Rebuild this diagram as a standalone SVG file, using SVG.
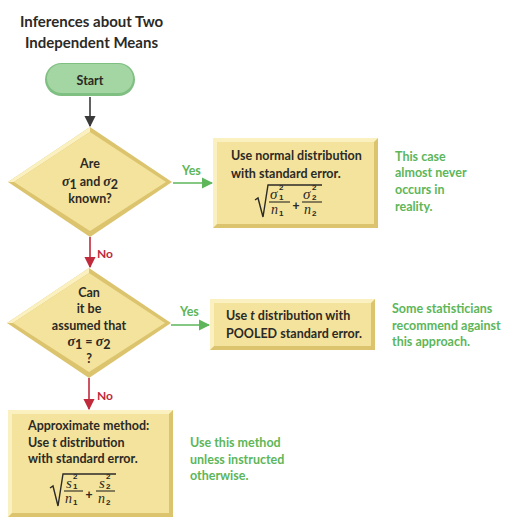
<svg xmlns="http://www.w3.org/2000/svg" width="527" height="526" viewBox="0 0 527 526">
<defs>
<style>
.t{font-family:Lato,"Open Sans","Liberation Sans",sans-serif;font-weight:bold;fill:#2b2a26;font-size:12.5px}
.ti{font-family:Lato,"Open Sans","Liberation Sans",sans-serif;font-weight:bold;fill:#2b2a26;font-size:15px}
.g{font-family:Lato,"Open Sans","Liberation Sans",sans-serif;font-weight:bold;fill:#5db65a;font-size:12.5px}
.r{font-family:Lato,"Open Sans","Liberation Sans",sans-serif;font-weight:bold;fill:#c02a3c;font-size:12px}
.m{font-family:"Liberation Serif","DejaVu Serif",serif;font-style:italic;fill:#2b2a26}
.ms{font-family:"Liberation Sans",sans-serif;font-weight:bold;fill:#2b2a26;font-size:8px}
.pl{font-family:"Liberation Sans",sans-serif;font-weight:bold;fill:#2b2a26;font-size:12px}
.dark{fill:#dcc46e}
.light{fill:#fbf1c0}
.main{fill:#f4e39c}
.rad{fill:none;stroke:#2b2a26;stroke-width:1.4}
.fb{stroke:#2b2a26;stroke-width:1.1}
</style>
<marker id="ak" viewBox="0 0 10 10" refX="9" refY="5" markerWidth="7" markerHeight="7" orient="auto"><path d="M0,0 L10,5 L0,10 z" fill="#3a3a3a"/></marker>
<marker id="ag" viewBox="0 0 10 10" refX="9" refY="5" markerWidth="7" markerHeight="7" orient="auto"><path d="M0,0 L10,5 L0,10 z" fill="#5db65a"/></marker>
<marker id="ar" viewBox="0 0 10 10" refX="9" refY="5" markerWidth="7" markerHeight="7" orient="auto"><path d="M0,0 L10,5 L0,10 z" fill="#c02a3c"/></marker>
</defs>
<rect width="527" height="526" fill="#ffffff"/>

<g id="title">
<text class="ti" x="20" y="27">Inferences about Two</text>
<text class="ti" x="25" y="48">Independent Means</text>
</g>

<g id="start">
<rect x="45" y="63" width="90" height="33" rx="16.5" fill="#7fbf82"/>
<rect x="47" y="64" width="86" height="29" rx="14.5" fill="#a3d6a2"/>
<text class="t" x="90" y="85" text-anchor="middle" font-size="14">Start</text>
</g>

<g id="q1">
<polygon class="dark" points="90,127 172,182 90,237 8,182"/>
<polygon class="light" points="90,127 8,182 14,182 90,132"/>
<polygon class="main" points="90,132 166,182 90,231 14,182"/>
<text class="t" x="90" y="168" text-anchor="middle">Are</text>
<text class="t" x="90" y="186" text-anchor="middle"><tspan class="m" font-size="14">σ</tspan><tspan dy="3">1</tspan><tspan dy="-3"> and </tspan><tspan class="m" font-size="14">σ</tspan><tspan dy="3">2</tspan></text>
<text class="t" x="90" y="203" text-anchor="middle">known?</text>
</g>

<g id="box1">
<rect class="dark" x="213" y="138" width="165" height="90"/>
<polygon class="light" points="213,138 378,138 374,142 217,142 217,224 213,228"/>
<rect class="main" x="217" y="142" width="157" height="82"/>
<text class="t" x="231" y="160">Use normal distribution</text>
<text class="t" x="231" y="178">with standard error.</text>
<polyline class="rad" points="255,200 258,198 263,217 268,185 322,185"/>
<text class="m" x="270" y="199" font-size="15">σ</text>
<text class="ms" x="279" y="190">2</text>
<text class="ms" x="279" y="199.5">1</text>
<line class="fb" x1="269" y1="202" x2="290" y2="202"/>
<text class="m" x="271" y="214" font-size="14">n</text>
<text class="ms" x="279" y="216">1</text>
<text class="pl" x="296" y="210" text-anchor="middle">+</text>
<text class="m" x="303" y="199" font-size="15">σ</text>
<text class="ms" x="312" y="190">2</text>
<text class="ms" x="312" y="199.5">2</text>
<line class="fb" x1="302" y1="202" x2="322" y2="202"/>
<text class="m" x="304" y="214" font-size="14">n</text>
<text class="ms" x="312" y="216">2</text>
</g>

<g id="note1">
<text class="g" x="395" y="161">This case</text>
<text class="g" x="395" y="177">almost never</text>
<text class="g" x="395" y="194">occurs in</text>
<text class="g" x="395" y="211">reality.</text>
</g>

<g id="q2">
<polygon class="dark" points="89,268 171,323 89,378 7,323"/>
<polygon class="light" points="89,268 7,323 13,323 89,273"/>
<polygon class="main" points="89,273 165,323 89,372 13,323"/>
<text class="t" x="89" y="297" text-anchor="middle">Can</text>
<text class="t" x="89" y="313" text-anchor="middle">it be</text>
<text class="t" x="89" y="330" text-anchor="middle">assumed that</text>
<text class="t" x="89" y="346" text-anchor="middle"><tspan class="m" font-size="14">σ</tspan><tspan dy="3">1</tspan><tspan dy="-3"> = </tspan><tspan class="m" font-size="14">σ</tspan><tspan dy="3">2</tspan></text>
<text class="t" x="89" y="363" text-anchor="middle">?</text>
</g>

<g id="box2">
<rect class="dark" x="210" y="299" width="165" height="51"/>
<polygon class="light" points="210,299 375,299 371,303 214,303 214,346 210,350"/>
<rect class="main" x="214" y="303" width="157" height="43"/>
<text class="t" x="226" y="320">Use <tspan font-style="italic">t</tspan> distribution with</text>
<text class="t" x="226" y="338">POOLED standard error.</text>
</g>

<g id="note2">
<text class="g" x="392" y="313">Some statisticians</text>
<text class="g" x="392" y="330">recommend against</text>
<text class="g" x="392" y="346">this approach.</text>
</g>

<g id="box3">
<rect class="dark" x="8" y="410" width="165" height="107"/>
<polygon class="light" points="8,410 173,410 169,414 12,414 12,513 8,517"/>
<rect class="main" x="12" y="414" width="157" height="99"/>
<text class="t" x="28" y="430">Approximate method:</text>
<text class="t" x="28" y="447">Use <tspan font-style="italic">t</tspan> distribution</text>
<text class="t" x="28" y="463">with standard error.</text>
<polyline class="rad" points="50,488 53,486 58,506 63,474 116,474"/>
<text class="m" x="66" y="488" font-size="15">s</text>
<text class="ms" x="73" y="479">2</text>
<text class="ms" x="73" y="488.5">1</text>
<line class="fb" x1="64" y1="491" x2="83" y2="491"/>
<text class="m" x="65" y="503" font-size="14">n</text>
<text class="ms" x="73" y="505">1</text>
<text class="pl" x="89" y="499" text-anchor="middle">+</text>
<text class="m" x="99" y="488" font-size="15">s</text>
<text class="ms" x="106" y="479">2</text>
<text class="ms" x="106" y="488.5">2</text>
<line class="fb" x1="96" y1="491" x2="115" y2="491"/>
<text class="m" x="98" y="503" font-size="14">n</text>
<text class="ms" x="106" y="505">2</text>
</g>

<g id="note3">
<text class="g" x="190" y="447">Use this method</text>
<text class="g" x="190" y="464">unless instructed</text>
<text class="g" x="190" y="480">otherwise.</text>
</g>

<g id="connectors">
<line x1="90" y1="97" x2="90" y2="126" stroke="#3a3a3a" stroke-width="1.6" marker-end="url(#ak)"/>
<line x1="173" y1="183" x2="212" y2="183" stroke="#5db65a" stroke-width="1.6" marker-end="url(#ag)"/>
<text class="g" x="182" y="175" font-size="11.5">Yes</text>
<line x1="90" y1="237" x2="90" y2="267" stroke="#c02a3c" stroke-width="1.6" marker-end="url(#ar)"/>
<text class="r" x="97" y="258">No</text>
<line x1="171" y1="325" x2="209" y2="325" stroke="#5db65a" stroke-width="1.6" marker-end="url(#ag)"/>
<text class="g" x="180" y="316" font-size="11.5">Yes</text>
<line x1="89" y1="378" x2="89" y2="409" stroke="#c02a3c" stroke-width="1.6" marker-end="url(#ar)"/>
<text class="r" x="97" y="400">No</text>
</g>
</svg>
